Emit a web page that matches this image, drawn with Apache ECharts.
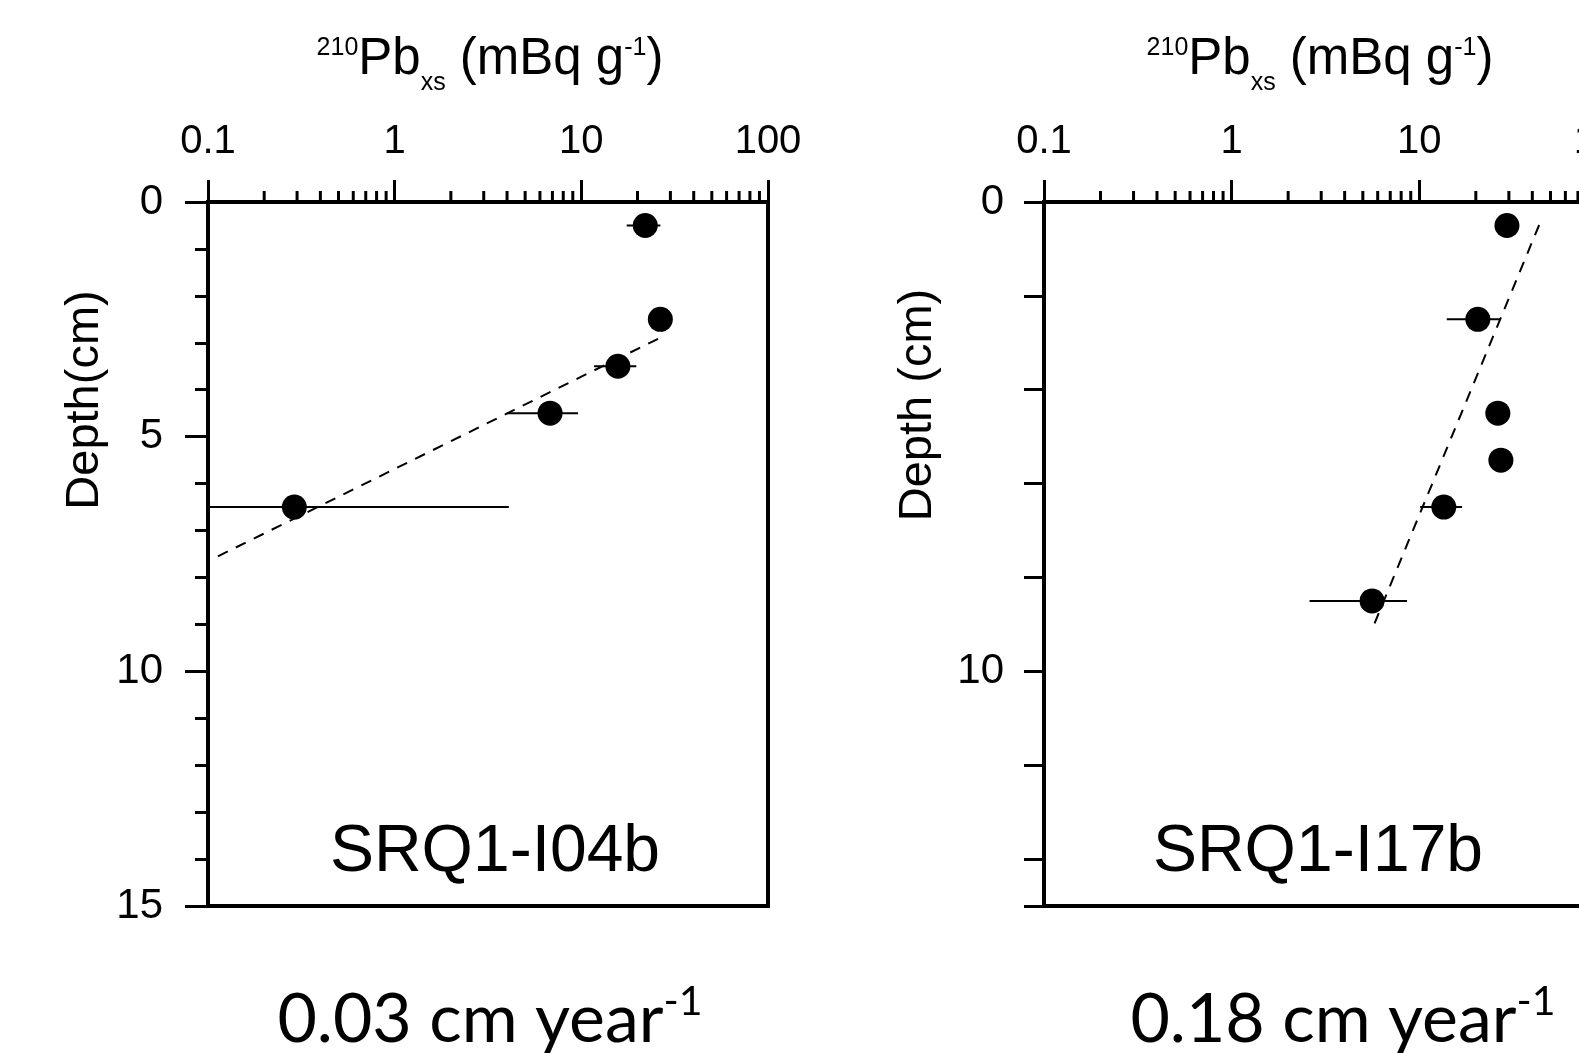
<!DOCTYPE html>
<html>
<head>
<meta charset="utf-8">
<script src="https://cdn.jsdelivr.net/npm/echarts@6/dist/echarts.min.js"></script>
<style>
  html, body { margin: 0; padding: 0; background: #fff; }
  #chart { width: 1579px; height: 1053px; }
</style>
</head>
<body>
<div id="chart"></div>
<script>
// left core: SRQ1-I04b
const leftDepth = [0.5, 2.5, 3.5, 4.5, 6.5];
const leftPb = [22.0, 26.5, 15.7, 6.8, 0.29];
const leftErr = [4.5, 1.0, 4.0, 2.8, 3.8];
const leftFitPb = [0.113, 26.2];
const leftFitDepth = [7.55, 2.9];

// right core: SRQ1-I17b
const rightDepth = [0.5, 2.5, 4.5, 5.5, 6.5, 8.5];
const rightPb = [29.3, 20.5, 26.2, 27.2, 13.5, 5.6];
const rightErr = [0.8, 6.5, 0.8, 1.2, 3.4, 3.0];
const rightFitPb = [43.5, 5.66];
const rightFitDepth = [0.49, 9.06];

// axes
const xMin = 0.1;
const xMax = 100;
const depthMax = 15;
const minorTickValues = [0.2, 0.3, 0.4, 0.5, 0.6, 0.7, 0.8, 0.9,
  2, 3, 4, 5, 6, 7, 8, 9, 20, 30, 40, 50, 60, 70, 80, 90];
const rightDepthLabels = [0, 10];

const labels = ["SRQ1-I04b", "SRQ1-I17b"];
const rates = ["0.03", "0.18"];

(function () {
  let chart = echarts.init(document.getElementById("chart"));
  const font = "Liberation Sans";
  const black = "#000";

  function zip(a, b, c) {
    return a.map(function (v, i) {
      return c ? [v, b[i], c[i]] : [v, b[i]];
    });
  }

  function errBar(params, api) {
    let x = api.value(0), y = api.value(1), e = api.value(2);
    let lo = api.coord([Math.max(x - e, xMin), y]);
    let hi = api.coord([x + e, y]);
    return {
      type: "line",
      shape: { x1: lo[0], y1: lo[1], x2: hi[0], y2: hi[1] },
      style: { stroke: black, lineWidth: 2 },
    };
  }

  function minorTick(params, api) {
    let p = api.coord([api.value(0), 0]);
    return {
      type: "line",
      shape: { x1: p[0], y1: p[1], x2: p[0], y2: p[1] - 11 },
      style: { stroke: black, lineWidth: 3 },
    };
  }

  function xAxis(i) {
    return {
      type: "log",
      gridIndex: i,
      position: "top",
      logBase: 10,
      min: xMin,
      max: xMax,
      splitNumber: 3,
      axisLine: { lineStyle: { color: black, width: 4 } },
      axisTick: { length: 22, lineStyle: { color: black, width: 3 } },
      axisLabel: {
        color: black, fontFamily: font, fontSize: 40, margin: 40,
        formatter: function (v) { return String(v); },
      },
      splitLine: { show: false },
    };
  }

  function titleText(x) {
    return {
      type: "text",
      x: x, y: 60,
      style: {
        text: "{sup|210}{main|Pb}{sub|xs}{main| (mBq g}{sup|-1}{main|)}",
        align: "center",
        verticalAlign: "middle",
        rich: {
          main: { fontFamily: font, fontSize: 51, lineHeight: 64, fill: black },
          sup: { fontFamily: font, fontSize: 25, lineHeight: 64, verticalAlign: "top", padding: [8, 0, 0, 0], fill: black },
          sub: { fontFamily: font, fontSize: 25, lineHeight: 64, verticalAlign: "bottom", padding: [0, 0, -4, 0], fill: black },
        },
      },
    };
  }

  function rateText(x, rate) {
    return {
      type: "text",
      x: x, y: 1020,
      style: {
        text: "{main|" + rate + " cm year}{sup|-1}",
        align: "center",
        verticalAlign: "middle",
        rich: {
          main: { fontFamily: "Lato", fontSize: 68, lineHeight: 78, fill: black },
          sup: { fontFamily: "Lato", fontSize: 41, lineHeight: 78, verticalAlign: "top", fill: black },
        },
      },
    };
  }

  function textAt(x, y, text, size, rot) {
    return {
      type: "text",
      x: x, y: y,
      rotation: rot || 0,
      style: {
        text: text, fill: black, fontFamily: font, fontSize: size,
        align: "center", verticalAlign: "middle",
      },
    };
  }

  let option = {
    animation: false,
    backgroundColor: "#fff",
    grid: [
      { left: 208, top: 202, width: 560, height: 704, show: true, borderColor: black, borderWidth: 4, outerBoundsMode: "none" },
      { left: 1044, top: 202, width: 563, height: 704, show: true, borderColor: black, borderWidth: 4, outerBoundsMode: "none" },
    ],
    xAxis: [xAxis(0), xAxis(1)],
    yAxis: [
      {
        type: "value",
        gridIndex: 0,
        inverse: true,
        min: 0,
        max: depthMax,
        interval: 5,
        axisLine: { lineStyle: { color: black, width: 4 } },
        axisTick: { length: 23, lineStyle: { color: black, width: 3 } },
        minorTick: { show: true, splitNumber: 5, length: 13, lineStyle: { color: black, width: 3 } },
        axisLabel: { color: black, fontFamily: font, fontSize: 42, margin: 45 },
        splitLine: { show: false },
      },
      {
        type: "value",
        gridIndex: 1,
        inverse: true,
        min: 0,
        max: depthMax,
        interval: 2,
        axisLine: { lineStyle: { color: black, width: 4 } },
        axisTick: { length: 20, lineStyle: { color: black, width: 3 } },
        axisLabel: {
          color: black, fontFamily: font, fontSize: 42, margin: 40,
          formatter: function (v) { return rightDepthLabels.indexOf(v) >= 0 ? String(v) : ""; },
        },
        splitLine: { show: false },
      },
    ],
    series: [
      {
        type: "custom", xAxisIndex: 0, yAxisIndex: 0, clip: false, silent: true,
        data: minorTickValues.map(function (v) { return [v, 0]; }),
        renderItem: minorTick,
      },
      {
        type: "custom", xAxisIndex: 1, yAxisIndex: 1, clip: false, silent: true,
        data: minorTickValues.map(function (v) { return [v, 0]; }),
        renderItem: minorTick,
      },
      {
        type: "line", xAxisIndex: 0, yAxisIndex: 0, symbol: "none",
        data: zip(leftFitPb, leftFitDepth),
        lineStyle: { color: black, width: 2, type: [11, 9] },
      },
      {
        type: "line", xAxisIndex: 1, yAxisIndex: 1, symbol: "none",
        data: zip(rightFitPb, rightFitDepth),
        lineStyle: { color: black, width: 2, type: [11, 9] },
      },
      {
        type: "custom", xAxisIndex: 0, yAxisIndex: 0,
        data: zip(leftPb, leftDepth, leftErr),
        renderItem: errBar,
      },
      {
        type: "custom", xAxisIndex: 1, yAxisIndex: 1,
        data: zip(rightPb, rightDepth, rightErr),
        renderItem: errBar,
      },
      {
        type: "scatter", xAxisIndex: 0, yAxisIndex: 0,
        symbol: "circle", symbolSize: 25, itemStyle: { color: black, opacity: 1 },
        data: zip(leftPb, leftDepth), z: 5,
      },
      {
        type: "scatter", xAxisIndex: 1, yAxisIndex: 1,
        symbol: "circle", symbolSize: 25, itemStyle: { color: black, opacity: 1 },
        data: zip(rightPb, rightDepth), z: 5,
      },
    ],
    graphic: [
      titleText(490),
      titleText(1320),
      textAt(85, 400, "Depth(cm)", 47, Math.PI / 2),
      textAt(918, 405, "Depth (cm)", 47, Math.PI / 2),
      textAt(495, 853, labels[0], 66),
      textAt(1318, 853, labels[1], 66),
      rateText(490, rates[0]),
      rateText(1343, rates[1]),
    ],
  };
  option && chart.setOption(option);
})();
</script>
</body>
</html>
